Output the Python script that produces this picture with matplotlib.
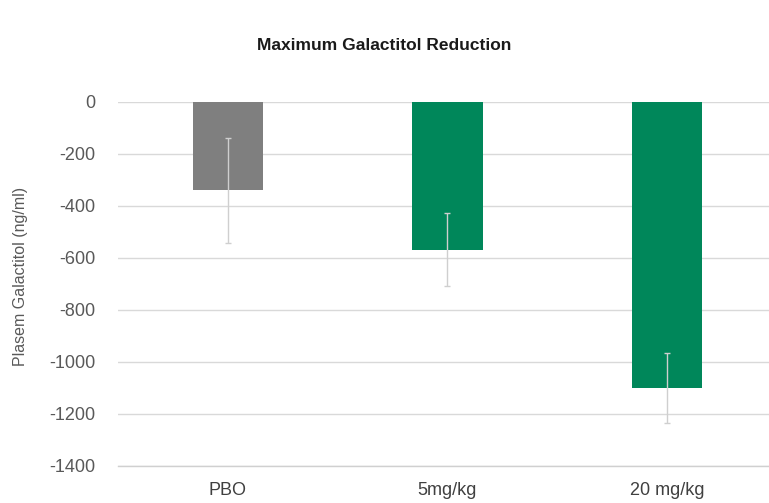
import matplotlib
matplotlib.use("Agg")
import matplotlib.pyplot as plt

categories = ["PBO", "5mg/kg", "20 mg/kg"]
values = [-341, -569, -1102]
errors = [202, 141, 134]
colors = ["#7F7F7F", "#00875A", "#00875A"]
yticks = [0, -200, -400, -600, -800, -1000, -1200, -1400]

plt.rcParams['font.family'] = ['Liberation Sans', 'DejaVu Sans']

fig = plt.figure(figsize=(7.69, 5.03), dpi=100)
ax = fig.add_axes([0.1534, 0.0742, 0.8466, 0.7236])

x = list(range(len(categories)))
ax.bar(x, values, width=0.32, color=colors, zorder=2)
ax.errorbar(x, values, yerr=errors, fmt='none', ecolor='#CFCFCF',
            elinewidth=1.0, capsize=2.5, capthick=1.0, zorder=3)

ax.set_xlim(-0.501, 2.465)
ax.set_ylim(-1400, 0)
ax.set_yticks(yticks)
ax.set_yticklabels([str(v) for v in yticks], fontsize=13, color='#595959')
ax.set_xticks(x)
ax.set_xticklabels(categories, fontsize=13, color='#404040')
ax.tick_params(axis='y', length=0, pad=16)
ax.tick_params(axis='x', length=0, pad=12)
ax.grid(axis='y', color='#D9D9D9', linewidth=1.0, zorder=0)
for name, s in ax.spines.items():
    s.set_visible(False)
ax.spines['bottom'].set_visible(True)
ax.spines['bottom'].set_color('#D0D0D0')
ax.spines['bottom'].set_linewidth(1.0)

ax.set_ylabel("Plasem Galactitol (ng/ml)", fontsize=11.5, color='#595959')
ax.yaxis.set_label_coords(-0.138, 0.52)

fig.text(0.5, 1 - 45 / 503, "Maximum Galactitol Reduction", ha='center', va='center',
         fontsize=12.5, fontweight='bold', color='#1a1a1a')

fig.savefig("out.png", dpi=100)
